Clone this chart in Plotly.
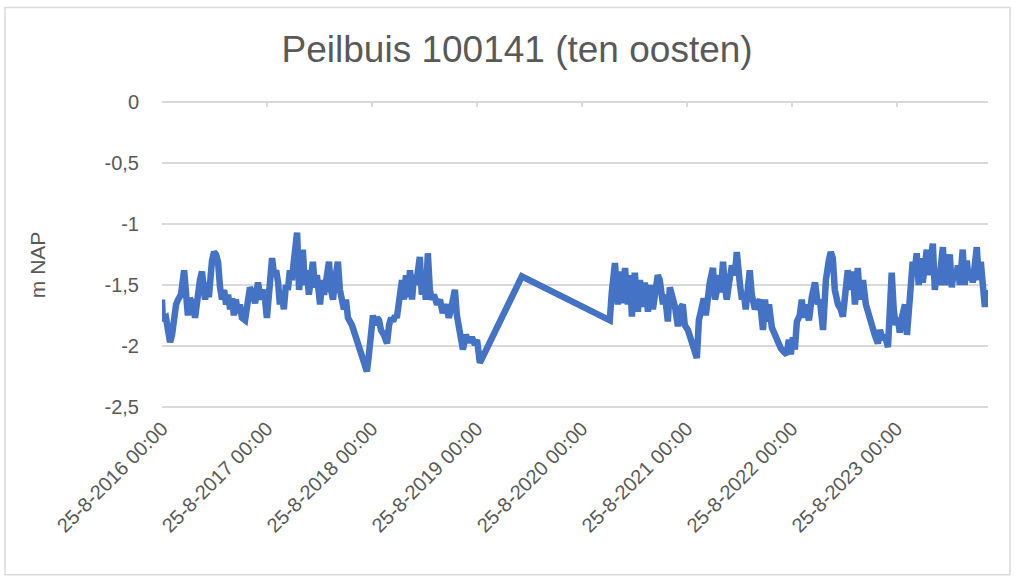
import plotly.graph_objects as go

# ---- data ----
dates = [
    "2016-08-25", "2016-08-28", "2016-09-08", "2016-09-15", "2016-09-22", "2016-09-29", "2016-10-06", "2016-10-13",
    "2016-10-20", "2016-10-30", "2016-11-10", "2016-11-16", "2016-11-23", "2016-11-30", "2016-12-11", "2016-12-18",
    "2016-12-25", "2017-01-04", "2017-01-11", "2017-01-22", "2017-01-29", "2017-02-04", "2017-02-15", "2017-02-22",
    "2017-03-01", "2017-03-08", "2017-03-15", "2017-03-22", "2017-03-29", "2017-04-05", "2017-04-12", "2017-04-19",
    "2017-04-26", "2017-05-02", "2017-05-09", "2017-05-16", "2017-05-23", "2017-05-30", "2017-06-10", "2017-06-20",
    "2017-06-27", "2017-07-08", "2017-07-15", "2017-07-25", "2017-08-04", "2017-08-15", "2017-08-25", "2017-09-01",
    "2017-09-12", "2017-09-19", "2017-09-26", "2017-10-03", "2017-10-09", "2017-10-16", "2017-10-23", "2017-10-30",
    "2017-11-06", "2017-11-13", "2017-11-20", "2017-11-27", "2017-12-08", "2017-12-15", "2017-12-22", "2017-12-28",
    "2018-01-04", "2018-01-11", "2018-01-18", "2018-01-25", "2018-02-01", "2018-02-08", "2018-02-15", "2018-02-26",
    "2018-03-05", "2018-03-12", "2018-03-18", "2018-03-29", "2018-04-05", "2018-04-12", "2018-04-19", "2018-04-29",
    "2018-05-06", "2018-05-13", "2018-05-20", "2018-05-27", "2018-06-03", "2018-06-17", "2018-06-27", "2018-07-08",
    "2018-07-18", "2018-07-29", "2018-08-08", "2018-08-15", "2018-08-22", "2018-08-29", "2018-09-05", "2018-09-12",
    "2018-09-19", "2018-09-26", "2018-10-06", "2018-10-17", "2018-10-24", "2018-10-31", "2018-11-07", "2018-11-14",
    "2018-11-20", "2018-12-01", "2018-12-08", "2018-12-15", "2018-12-22", "2018-12-29", "2019-01-05", "2019-01-12",
    "2019-01-19", "2019-01-26", "2019-02-02", "2019-02-08", "2019-02-15", "2019-02-22", "2019-03-01", "2019-03-08",
    "2019-03-15", "2019-03-22", "2019-03-29", "2019-04-09", "2019-04-19", "2019-04-29", "2019-05-10", "2019-05-20",
    "2019-05-31", "2019-06-10", "2019-06-17", "2019-06-28", "2019-07-08", "2019-07-18", "2019-07-29", "2019-08-08",
    "2019-08-19", "2019-08-26", "2019-09-05", "2020-01-29", "2020-11-30", "2020-12-07", "2020-12-18", "2020-12-28",
    "2021-01-04", "2021-01-15", "2021-01-22", "2021-02-01", "2021-02-08", "2021-02-15", "2021-02-25", "2021-03-08",
    "2021-03-15", "2021-03-25", "2021-04-01", "2021-04-12", "2021-04-19", "2021-04-29", "2021-05-06", "2021-05-16",
    "2021-05-23", "2021-06-03", "2021-06-10", "2021-06-20", "2021-06-27", "2021-07-08", "2021-07-15", "2021-07-25",
    "2021-08-01", "2021-08-11", "2021-08-18", "2021-08-29", "2021-09-08", "2021-09-19", "2021-09-29", "2021-10-06",
    "2021-10-16", "2021-10-23", "2021-10-30", "2021-11-06", "2021-11-13", "2021-11-24", "2021-12-01", "2021-12-08",
    "2021-12-15", "2021-12-22", "2021-12-29", "2022-01-04", "2022-01-11", "2022-01-18", "2022-01-29", "2022-02-08",
    "2022-02-15", "2022-02-26", "2022-03-05", "2022-03-11", "2022-03-18", "2022-03-25", "2022-04-01", "2022-04-08",
    "2022-04-19", "2022-04-26", "2022-05-06", "2022-05-17", "2022-05-24", "2022-05-31", "2022-06-07", "2022-06-17",
    "2022-06-27", "2022-07-08", "2022-07-18", "2022-07-29", "2022-08-08", "2022-08-15", "2022-08-22", "2022-08-29",
    "2022-09-05", "2022-09-12", "2022-09-22", "2022-09-29", "2022-10-06", "2022-10-13", "2022-10-24", "2022-11-03",
    "2022-11-14", "2022-11-24", "2022-12-01", "2022-12-12", "2022-12-22", "2023-01-01", "2023-01-08", "2023-01-15",
    "2023-01-22", "2023-02-02", "2023-02-12", "2023-02-19", "2023-03-02", "2023-03-08", "2023-03-19", "2023-03-26",
    "2023-04-02", "2023-04-12", "2023-04-19", "2023-04-30", "2023-05-10", "2023-05-20", "2023-05-31", "2023-06-10",
    "2023-06-21", "2023-06-28", "2023-07-08", "2023-07-15", "2023-07-26", "2023-08-01", "2023-08-08", "2023-08-15",
    "2023-08-22", "2023-08-29", "2023-09-05", "2023-09-12", "2023-09-23", "2023-09-30", "2023-10-07", "2023-10-13",
    "2023-10-20", "2023-10-27", "2023-11-03", "2023-11-10", "2023-11-17", "2023-11-24", "2023-12-01", "2023-12-08",
    "2023-12-15", "2023-12-22", "2023-12-29", "2024-01-05", "2024-01-12", "2024-01-19", "2024-01-26", "2024-02-02",
    "2024-02-09", "2024-02-16", "2024-02-26", "2024-03-04", "2024-03-11", "2024-03-18", "2024-03-25", "2024-04-01",
    "2024-04-11", "2024-04-18", "2024-04-25", "2024-05-02", "2024-05-09", "2024-05-16", "2024-05-23", "2024-05-30",
    "2024-06-06", "2024-06-13", "2024-06-20", "2024-06-27", "2024-07-04",
]

levels = [
    -1.62, -1.79, -1.77, -1.85, -1.97, -1.91, -1.77, -1.66,
    -1.62, -1.58, -1.38, -1.62, -1.75, -1.61, -1.66, -1.77,
    -1.62, -1.46, -1.39, -1.62, -1.48, -1.60, -1.30, -1.23,
    -1.25, -1.31, -1.52, -1.62, -1.54, -1.66, -1.58, -1.70,
    -1.61, -1.75, -1.62, -1.73, -1.66, -1.77, -1.79, -1.62,
    -1.52, -1.58, -1.65, -1.48, -1.62, -1.54, -1.77, -1.58,
    -1.28, -1.42, -1.38, -1.48, -1.66, -1.58, -1.70, -1.50,
    -1.54, -1.38, -1.46, -1.30, -1.07, -1.54, -1.34, -1.21,
    -1.50, -1.38, -1.58, -1.42, -1.31, -1.52, -1.42, -1.66,
    -1.46, -1.58, -1.48, -1.31, -1.54, -1.62, -1.46, -1.31,
    -1.54, -1.62, -1.70, -1.62, -1.77, -1.83, -1.91, -1.99,
    -2.07, -2.13, -2.21, -2.07, -1.91, -1.75, -1.83, -1.77,
    -1.79, -1.87, -1.91, -1.98, -1.83, -1.77, -1.80, -1.75,
    -1.77, -1.54, -1.46, -1.62, -1.42, -1.60, -1.38, -1.62,
    -1.42, -1.50, -1.36, -1.27, -1.58, -1.46, -1.62, -1.24,
    -1.54, -1.62, -1.58, -1.66, -1.62, -1.73, -1.66, -1.77,
    -1.66, -1.54, -1.75, -1.87, -2.03, -1.91, -1.97, -1.93,
    -1.99, -1.95, -2.14, -1.43, -1.79, -1.56, -1.32, -1.66,
    -1.39, -1.65, -1.36, -1.66, -1.42, -1.76, -1.40, -1.72,
    -1.46, -1.68, -1.48, -1.72, -1.50, -1.70, -1.54, -1.42,
    -1.46, -1.66, -1.58, -1.80, -1.52, -1.61, -1.68, -1.84,
    -1.70, -1.66, -1.83, -1.87, -1.95, -2.03, -2.10, -1.79,
    -1.66, -1.61, -1.75, -1.58, -1.48, -1.36, -1.62, -1.54,
    -1.42, -1.56, -1.31, -1.50, -1.62, -1.50, -1.34, -1.42,
    -1.23, -1.50, -1.62, -1.56, -1.70, -1.54, -1.38, -1.58,
    -1.70, -1.66, -1.62, -1.87, -1.62, -1.80, -1.66, -1.85,
    -1.91, -1.95, -2.02, -2.05, -2.07, -1.95, -2.07, -1.93,
    -2.03, -1.80, -1.75, -1.62, -1.77, -1.66, -1.79, -1.60,
    -1.48, -1.66, -1.62, -1.87, -1.46, -1.30, -1.23, -1.28,
    -1.54, -1.66, -1.70, -1.76, -1.50, -1.38, -1.54, -1.39,
    -1.66, -1.36, -1.62, -1.46, -1.66, -1.75, -1.85, -1.91,
    -1.98, -1.87, -1.95, -1.91, -2.01, -1.62, -1.40, -1.70,
    -1.83, -1.77, -1.89, -1.77, -1.66, -1.91, -1.62, -1.42,
    -1.31, -1.38, -1.24, -1.50, -1.28, -1.48, -1.34, -1.21,
    -1.42, -1.25, -1.16, -1.54, -1.38, -1.50, -1.30, -1.19,
    -1.50, -1.42, -1.25, -1.52, -1.38, -1.46, -1.34, -1.50,
    -1.21, -1.50, -1.30, -1.46, -1.38, -1.48, -1.31, -1.19,
    -1.46, -1.31, -1.50, -1.68, -1.54,
]

tick_dates = ["2016-08-25", "2017-08-25", "2018-08-25", "2019-08-25",
              "2020-08-25", "2021-08-25", "2022-08-25", "2023-08-25"]
tick_labels = ["25-8-2016 00:00", "25-8-2017 00:00", "25-8-2018 00:00", "25-8-2019 00:00",
               "25-8-2020 00:00", "25-8-2021 00:00", "25-8-2022 00:00", "25-8-2023 00:00"]
y_ticks = [0, -0.5, -1, -1.5, -2, -2.5]
y_labels = ["0", "-0,5", "-1", "-1,5", "-2", "-2,5"]

title_text = "Peilbuis 100141 (ten oosten)"
y_title = "m NAP"

FONT = "Liberation Sans, Arial, sans-serif"
GRAY = "#595959"
GRID = "#d9d9d9"

fig = go.Figure()
fig.add_trace(go.Scatter(
    x=dates, y=levels, mode="lines",
    line=dict(color="#4472C4", width=6.5),
    showlegend=False, hoverinfo="x+y",
))
# invisible trace to carry the top tick-mark axis
fig.add_trace(go.Scatter(x=[dates[0]], y=[levels[0]], xaxis="x2", mode="lines",
                         line=dict(width=0), showlegend=False, hoverinfo="skip"))

x_range = ["2016-08-25", "2024-07-08"]
y_range = [-2.51, 0.01]

# plot area: y=0 at 102 px, y=-2.5 at 407 px (122 px per unit)
fig.update_layout(
    width=1024, height=576,
    margin=dict(l=162, r=36, t=101, b=168),
    paper_bgcolor="white", plot_bgcolor="white",
    font=dict(family=FONT, color=GRAY),
    title=dict(text=title_text, x=0.505, xanchor="center", y=0.915, yanchor="middle",
               font=dict(size=37, color=GRAY, family=FONT)),
    xaxis=dict(
        type="date", range=x_range,
        tickvals=tick_dates, ticktext=tick_labels, tickangle=-45,
        tickfont=dict(size=20, color=GRAY, family=FONT),
        showgrid=False, zeroline=False, showline=False, ticks="",
        ticklabelstandoff=4,
    ),
    xaxis2=dict(
        type="date", range=x_range, overlaying="x", side="top", anchor="y",
        tickvals=tick_dates, ticks="inside", ticklen=6, tickcolor=GRID, tickwidth=1.5,
        showticklabels=False, showgrid=False, zeroline=False, showline=False,
    ),
    yaxis=dict(
        range=y_range, tickvals=y_ticks, ticktext=y_labels,
        tickfont=dict(size=20, color=GRAY, family=FONT),
        showgrid=True, gridcolor=GRID, gridwidth=1.5,
        zeroline=False, showline=False, ticks="", ticklabelstandoff=22,
    ),
    annotations=[dict(
        text=y_title, xref="paper", yref="paper",
        x=(37 - 162) / 826, y=(408 - 265) / 307.4, xanchor="center", yanchor="middle",
        textangle=-90, showarrow=False, font=dict(size=21, color=GRAY, family=FONT),
    )],
    shapes=[dict(
        type="rect", xref="paper", yref="paper",
        x0=(5 - 162) / 826, x1=(1010 - 162) / 826,
        y0=(408 - 575) / 307.4, y1=(408 - 7) / 307.4,
        line=dict(color=GRID, width=1.5), layer="below",
    )],
)

fig.write_html(
    "out.html",
    config={"displayModeBar": False},
    post_script="document.body.style.margin='0';document.body.style.padding='0';",
)
